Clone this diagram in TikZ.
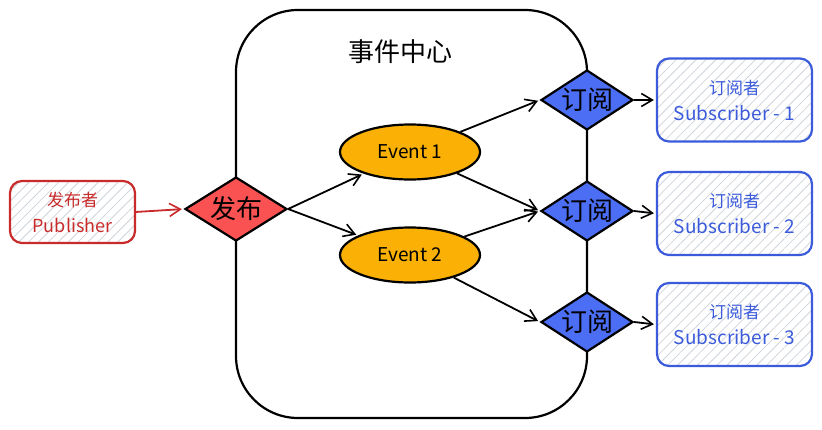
\documentclass[tikz,border=0pt]{standalone}
\usepackage{fontspec}
\setmainfont{Noto Sans CJK SC}
\usetikzlibrary{shapes.geometric, arrows.meta, patterns.meta}

\definecolor{pubred}{HTML}{C92A2A}
\definecolor{diared}{HTML}{FA5252}
\definecolor{evorange}{HTML}{FAB005}
\definecolor{subblue}{HTML}{4C6EF5}
\definecolor{boxblue}{HTML}{3B5BDB}
\definecolor{hatchgray}{HTML}{CED4DA}

\newcommand{\ensize}{\fontsize{19}{26}\selectfont}

\tikzset{
  hubbox/.style={draw, line width=2.2pt, rounded corners=62pt, minimum width=351pt, minimum height=408pt},
  hatchbox/.style={line width=2.2pt, rounded corners=12pt, align=center,
    pattern={Lines[angle=45, distance=7pt, line width=0.8pt]}, pattern color=hatchgray,
    font=\fontsize{17}{26}\selectfont},
  pubbox/.style={hatchbox, draw=pubred, text=pubred, minimum width=125pt, minimum height=62pt},
  subbox/.style={hatchbox, draw=boxblue, text=boxblue, minimum width=155pt, minimum height=83pt},
  pubdia/.style={diamond, draw, line width=2.2pt, fill=diared, minimum width=102pt, minimum height=64pt, inner sep=0pt},
  subdia/.style={diamond, draw, line width=2.2pt, fill=subblue, minimum width=92pt, minimum height=60pt, inner sep=0pt},
  diatxt/.style={font=\fontsize{26}{26}\selectfont},
  event/.style={ellipse, draw, line width=2.2pt, fill=evorange, minimum width=140pt, minimum height=55pt,
    font=\fontsize{19}{19}\selectfont},
  arr/.style={-{Straight Barb[length=11pt, width=13pt, line width=1.6pt]}, line width=1.8pt, shorten >=2pt},
}

\begin{document}
\begin{tikzpicture}[x=1pt, y=-1pt]
        \useasboundingbox (0,0) rectangle (822,429);

        % event hub
        \node[hubbox] (hub) at (411.5,214) {};
        \node[font=\fontsize{26}{26}\selectfont] (title) at (400,52) {事件中心};

        \node[pubbox] (pub) at (72.5,212) {发布者\\{\fontsize{18}{26}\selectfont Publisher}};
        \node[pubdia, label={[diatxt]center:发布}] (fabu) at (236,209) {};

        \node[event] (ev1) at (410,152) {Event 1};
        \node[event] (ev2) at (410,255) {Event 2};

        \node[subdia, label={[diatxt]center:订阅}] (dy1) at (587,100) {};
        \node[subdia, label={[diatxt]center:订阅}] (dy2) at (587,211) {};
        \node[subdia, label={[diatxt]center:订阅}] (dy3) at (587,322) {};

        \node[subbox] (sub1) at (734.5,100) {订阅者\\{\ensize Subscriber - 1}};
        \node[subbox] (sub2) at (734.5,213.5) {订阅者\\{\ensize Subscriber - 2}};
        \node[subbox] (sub3) at (734.5,324.5) {订阅者\\{\ensize Subscriber - 3}};

        \draw[arr, pubred] (pub.east) -- (fabu.west);
        \draw[arr] (fabu.east) -- (ev1);
        \draw[arr] (fabu.east) -- (ev2);

        \draw[arr] (ev1) -- (dy1.west);
        \draw[arr] (ev1) -- (dy2.west);
        \draw[arr] (ev2) -- (dy2.west);
        \draw[arr] (ev2) -- (dy3.west);

        \draw[arr] (dy1.east) -- (sub1.west);
        \draw[arr] (dy2.east) -- (sub2.west);
        \draw[arr] (dy3.east) -- (sub3.west);
    \end{tikzpicture}
\end{document}
